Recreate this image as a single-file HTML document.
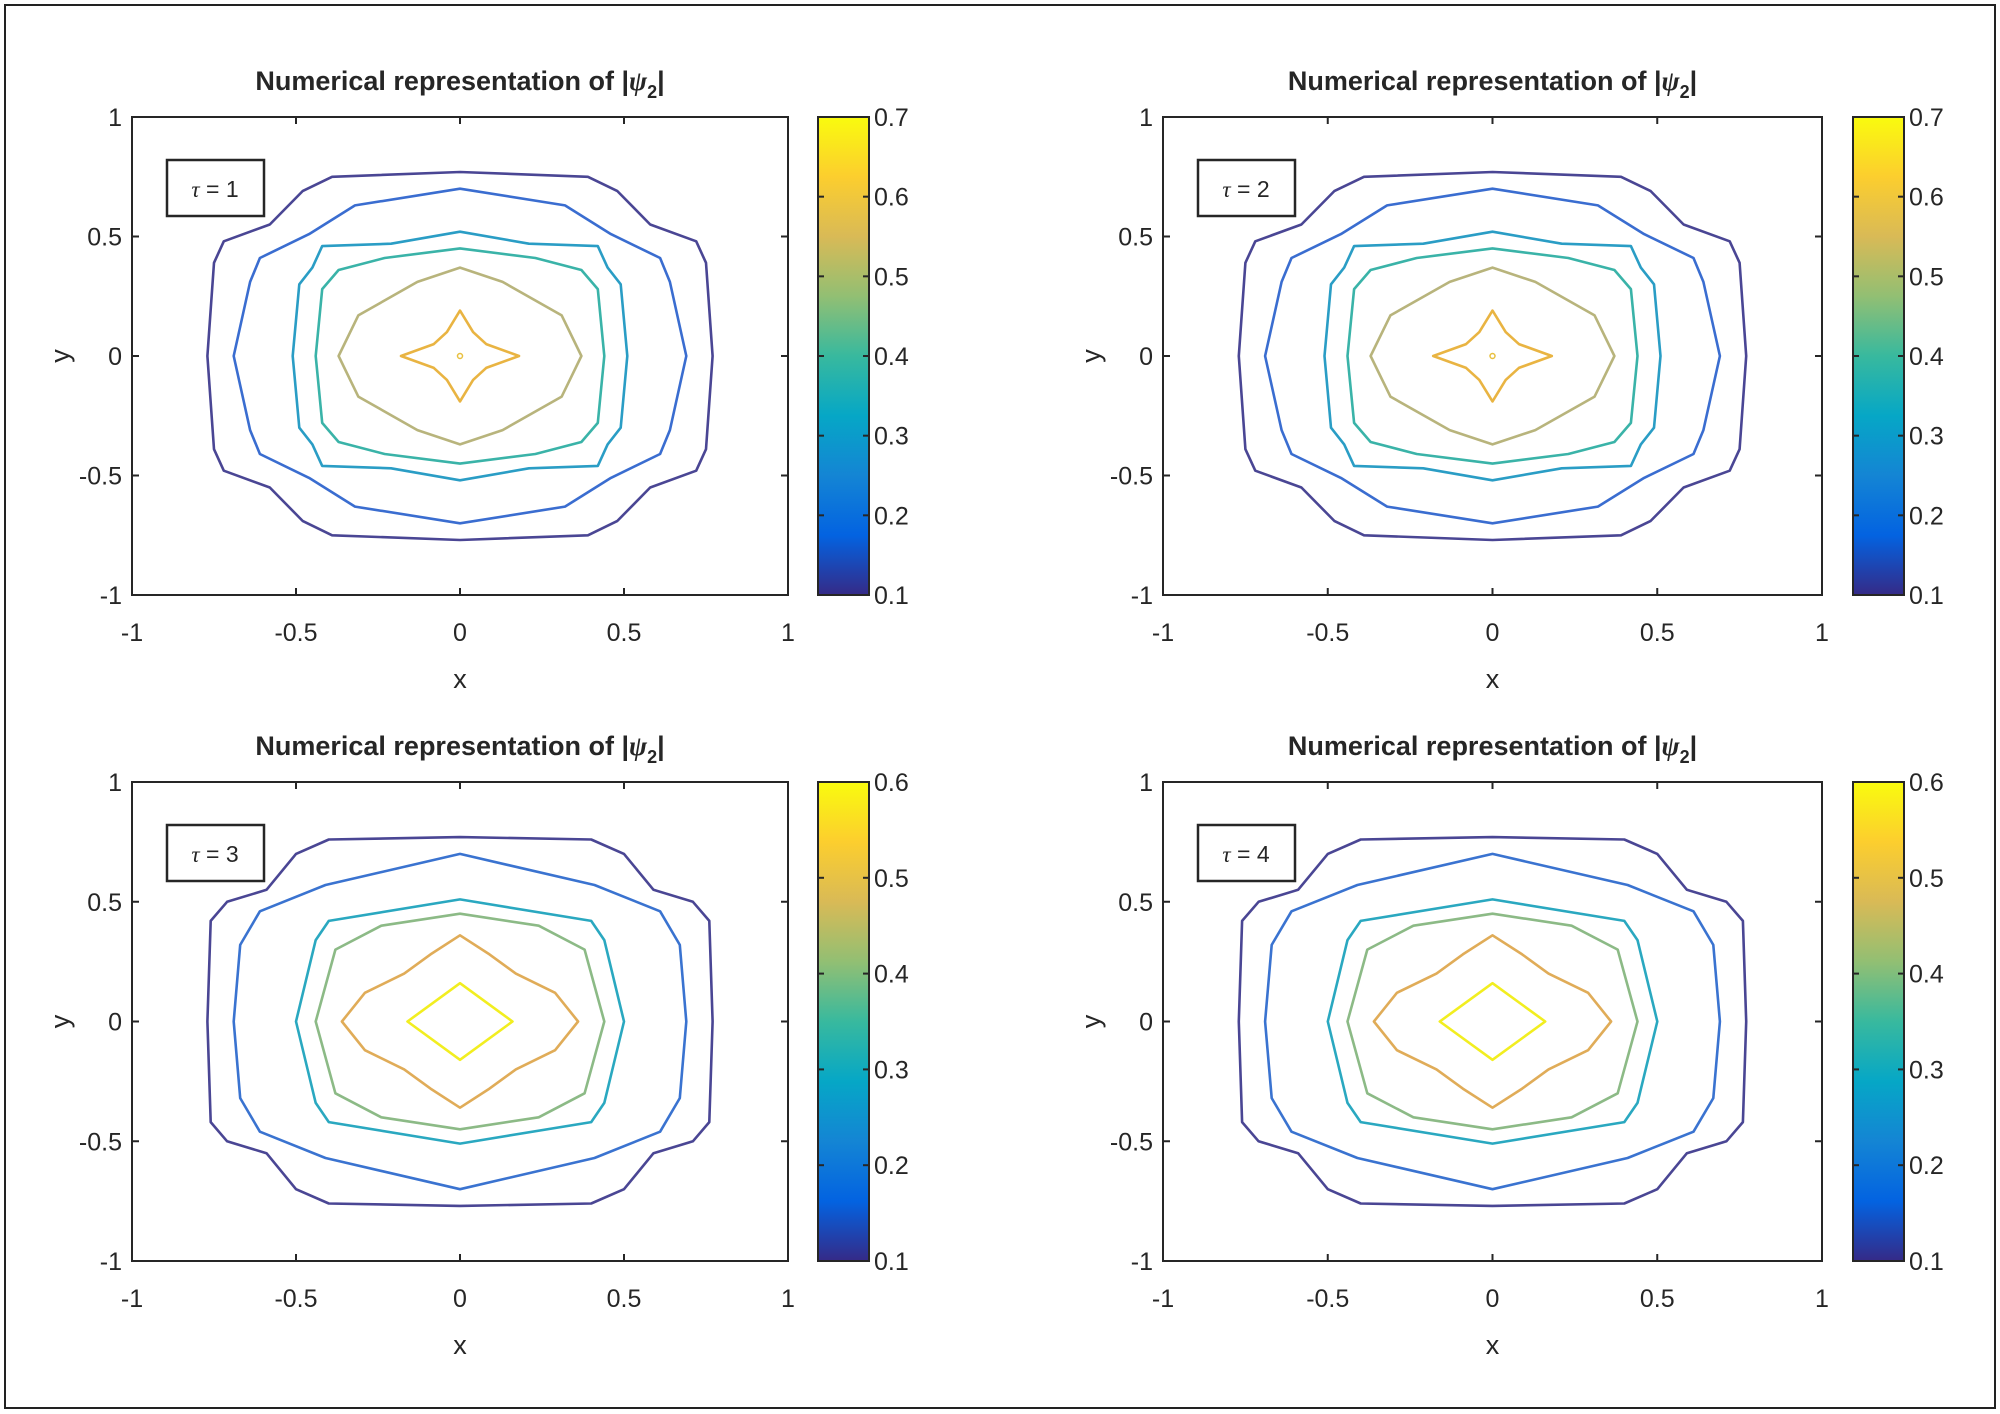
<!DOCTYPE html>
<html><head><meta charset="utf-8"><style>
html,body{margin:0;padding:0;background:#fff;}
svg{display:block;}
text{font-family:"Liberation Sans",sans-serif;fill:#262626;}
</style></head><body>
<svg id="s" width="2000" height="1414" viewBox="0 0 2000 1414" xmlns="http://www.w3.org/2000/svg">
<defs>
<linearGradient id="par" x1="0" y1="1" x2="0" y2="0">
<stop offset="0" stop-color="#352a87"/><stop offset="0.125" stop-color="#0363e1"/>
<stop offset="0.25" stop-color="#1485d4"/><stop offset="0.375" stop-color="#06a7c6"/>
<stop offset="0.5" stop-color="#38b99e"/><stop offset="0.625" stop-color="#92bf73"/>
<stop offset="0.75" stop-color="#d9ba56"/><stop offset="0.875" stop-color="#fcce2e"/>
<stop offset="1" stop-color="#f9fb0e"/>
</linearGradient>
</defs>
<rect x="5" y="5" width="1990" height="1403" fill="#fff" stroke="#222" stroke-width="2"/>
<g id="panels"></g>
</svg>
<script>
var NS="http://www.w3.org/2000/svg";
var root=document.getElementById("panels");
function el(tag,attrs,txt){var e=document.createElementNS(NS,tag);for(var k in attrs)e.setAttribute(k,attrs[k]);if(txt!==undefined)e.textContent=txt;root.appendChild(e);return e;}
function mirror(q){
  var out=[];var i;
  for(i=0;i<q.length;i++)out.push([q[i][0],q[i][1]]);
  for(i=q.length-1;i>=0;i--)out.push([q[i][0],-q[i][1]]);
  for(i=0;i<q.length;i++)out.push([-q[i][0],-q[i][1]]);
  for(i=q.length-1;i>=0;i--)out.push([-q[i][0],q[i][1]]);
  return out;
}
var topLv=[
 ["#4a4694",[[0,0.77],[0.39,0.75],[0.48,0.69],[0.58,0.55],[0.72,0.48],[0.75,0.39],[0.77,0]]],
 ["#3a6dd0",[[0,0.70],[0.32,0.63],[0.46,0.51],[0.61,0.41],[0.64,0.31],[0.69,0]]],
 ["#2a9dc5",[[0,0.52],[0.21,0.47],[0.42,0.46],[0.45,0.37],[0.49,0.30],[0.51,0]]],
 ["#3ab3a8",[[0,0.45],[0.23,0.41],[0.37,0.36],[0.42,0.28],[0.44,0]]],
 ["#b8b47c",[[0,0.37],[0.13,0.31],[0.31,0.17],[0.37,0]]],
 ["#e9b442",[[0,0.19],[0.04,0.1],[0.08,0.05],[0.18,0]]]
];
var botLv=[
 ["#4a4694",[[0,0.77],[0.40,0.76],[0.50,0.70],[0.59,0.55],[0.71,0.50],[0.76,0.42],[0.77,0]]],
 ["#3a73d0",[[0,0.70],[0.41,0.57],[0.61,0.46],[0.67,0.32],[0.69,0]]],
 ["#2aa8c0",[[0,0.51],[0.40,0.42],[0.44,0.34],[0.50,0]]],
 ["#8cba86",[[0,0.45],[0.24,0.40],[0.38,0.30],[0.44,0]]],
 ["#e0ac58",[[0,0.36],[0.09,0.28],[0.17,0.20],[0.29,0.12],[0.36,0]]],
 ["#f2ee20",[[0,0.16],[0.16,0]]]
];
var panels=[
 {L:132,R:788,T:117,B:595,cb:818,lv:topLv,cmax:0.7,tau:1,dot:true},
 {L:1163,R:1822,T:117,B:595,cb:1853,lv:topLv,cmax:0.7,tau:2,dot:true},
 {L:132,R:788,T:782,B:1261,cb:818,lv:botLv,cmax:0.6,tau:3,dot:false},
 {L:1163,R:1822,T:782,B:1261,cb:1853,lv:botLv,cmax:0.6,tau:4,dot:false}
];
panels.forEach(function(p){
  var cx=(p.L+p.R)/2, cy=(p.T+p.B)/2, sx=(p.R-p.L)/2, sy=(p.B-p.T)/2;
  function X(v){return cx+v*sx;} function Y(v){return cy-v*sy;}
  // contours
  p.lv.forEach(function(l){
    var pts=mirror(l[1]).map(function(a){return X(a[0]).toFixed(1)+","+Y(a[1]).toFixed(1);});
    el("polygon",{points:pts.join(" "),fill:"none",stroke:l[0],"stroke-width":"2.6","stroke-linejoin":"round"});
  });
  if(p.dot) el("circle",{cx:cx,cy:cy,r:2.5,fill:"none",stroke:"#e8c040","stroke-width":"1.5"});
  // axes box
  el("rect",{x:p.L,y:p.T,width:p.R-p.L,height:p.B-p.T,fill:"none",stroke:"#262626","stroke-width":"2"});
  var t=[-1,-0.5,0,0.5,1];
  t.forEach(function(v){
    var x=X(v),y=Y(v);
    el("line",{x1:x,y1:p.B,x2:x,y2:p.B-7,stroke:"#262626","stroke-width":"2"});
    el("line",{x1:x,y1:p.T,x2:x,y2:p.T+7,stroke:"#262626","stroke-width":"2"});
    el("line",{x1:p.L,y1:y,x2:p.L+7,y2:y,stroke:"#262626","stroke-width":"2"});
    el("line",{x1:p.R,y1:y,x2:p.R-7,y2:y,stroke:"#262626","stroke-width":"2"});
    var s=(v===1||v===-1||v===0)?String(v):(v>0?"0.5":"-0.5");
    el("text",{x:x,y:p.B+46,"font-size":"25","text-anchor":"middle"},s);
    el("text",{x:p.L-10,y:y+9,"font-size":"25","text-anchor":"end"},s);
  });
  el("text",{x:cx,y:p.B+93,"font-size":"27","text-anchor":"middle"},"x");
  el("text",{x:0,y:0,"font-size":"27","text-anchor":"middle",transform:"translate("+(p.L-63)+","+cy+") rotate(-90)"},"y");
  // title
  var tt=el("text",{x:cx,y:p.T-27,"font-size":"27","font-weight":"bold","text-anchor":"middle"});
  tt.innerHTML='Numerical representation of |<tspan font-family="Liberation Serif" font-style="italic">ψ</tspan><tspan font-size="18" dy="8">2</tspan><tspan dy="-8">|</tspan>';
  // legend
  el("rect",{x:p.L+35,y:p.T+43,width:97,height:56,fill:"#fff",stroke:"#262626","stroke-width":"2.5"});
  var lt=el("text",{x:p.L+83,y:p.T+80,"font-size":"23","text-anchor":"middle"});
  lt.innerHTML='<tspan font-family="Liberation Serif" font-style="italic">τ</tspan> = '+p.tau;
  // colorbar
  el("rect",{x:p.cb,y:p.T,width:51,height:p.B-p.T,fill:"url(#par)",stroke:"#262626","stroke-width":"2"});
  var n=Math.round((p.cmax-0.1)*10);
  for(var i=0;i<=n;i++){
    var yy=p.B-(p.B-p.T)*i/n;
    el("line",{x1:p.cb+51,y1:yy,x2:p.cb+45,y2:yy,stroke:"#262626","stroke-width":"2"});
    el("line",{x1:p.cb,y1:yy,x2:p.cb+6,y2:yy,stroke:"#262626","stroke-width":"2"});
    el("text",{x:p.cb+56,y:yy+9,"font-size":"25"},"0."+(i+1));
  }
});
</script>
</body></html>
